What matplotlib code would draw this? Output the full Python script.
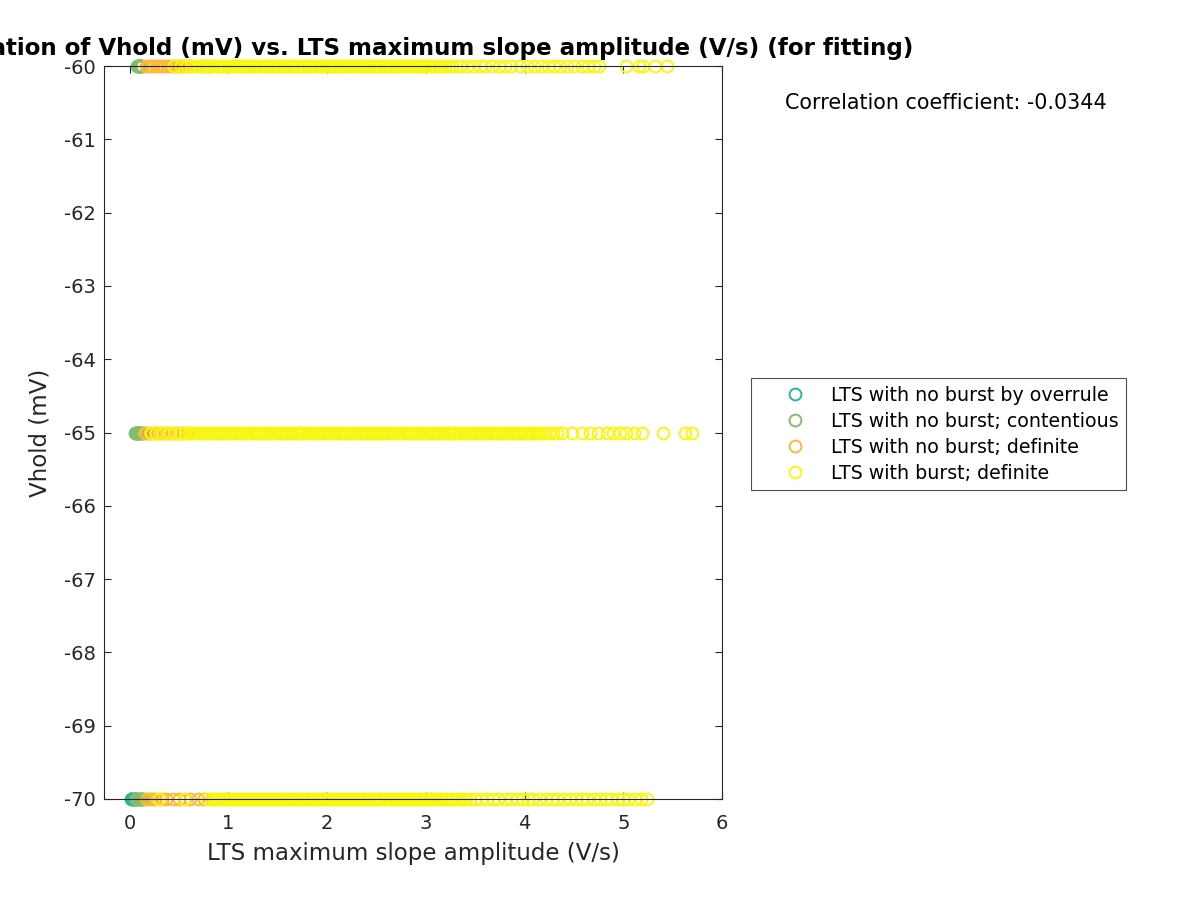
import matplotlib
matplotlib.use("Agg")
import matplotlib.pyplot as plt

# ---------------- data ----------------
title_text = "Correlation of Vhold (mV) vs. LTS maximum slope amplitude (V/s) (for fitting)"
xlabel_text = "LTS maximum slope amplitude (V/s)"
ylabel_text = "Vhold (mV)"
corr_text = "Correlation coefficient: -0.0344"
category_labels = ["LTS with no burst by overrule",
                   "LTS with no burst; contentious",
                   "LTS with no burst; definite",
                   "LTS with burst; definite"]
category_colors = ["#2bb5a0", "#84bd6e", "#fbbb35", "#f7f711"]
x_ticks = [0, 1, 2, 3, 4, 5, 6]
y_ticks = [-70, -69, -68, -67, -66, -65, -64, -63, -62, -61, -60]

# LTS with no burst by overrule
overrule_m70 = [0.01, 0.02, 0.03, 0.04, 0.05, 0.06]
overrule_m65 = [0.06, 0.08]
overrule_m60 = [0.08, 0.1]

# LTS with no burst; contentious
contentious_m60 = [0.07, 0.08, 0.09, 0.1, 0.11, 0.12]
contentious_m65 = [0.05, 0.06, 0.07, 0.08, 0.09, 0.1, 0.11, 0.12, 0.13]
contentious_m70 = [0.06, 0.07, 0.08, 0.09, 0.1, 0.11, 0.12, 0.13, 0.14]

# LTS with no burst; definite
nob_def_m60 = [0.17, 0.19, 0.22, 0.24, 0.27, 0.29, 0.32, 0.35, 0.38, 0.41, 0.44,
               0.46, 0.49, 0.51, 0.54, 0.57, 0.61, 0.73, 0.77, 0.8]
nob_def_m65 = [0.16, 0.18, 0.21, 0.23, 0.26, 0.29, 0.33, 0.36, 0.39, 0.43, 0.47,
               0.5, 0.54, 0.58]
nob_def_m70 = [0.17, 0.2, 0.23, 0.26, 0.3, 0.33, 0.37, 0.44, 0.5, 0.56, 0.61,
               0.69, 0.75, 0.83]

# LTS with burst; definite
burst_m60 = [0.45, 0.52, 0.58, 0.62, 0.66, 0.69, 0.72, 0.75, 0.78, 0.8, 0.83, 0.85,
             0.88, 0.9, 0.93, 0.95, 0.97, 1.0, 1.02, 1.05, 1.07, 1.09, 1.12, 1.14,
             1.17, 1.19, 1.21, 1.24, 1.26, 1.28, 1.31, 1.33, 1.36, 1.38, 1.4, 1.43,
             1.45, 1.47, 1.5, 1.52, 1.55, 1.57, 1.59, 1.62, 1.64, 1.66, 1.69, 1.71,
             1.74, 1.76, 1.78, 1.81, 1.83, 1.85, 1.88, 1.9, 1.93, 1.95, 1.97, 2.0,
             2.02, 2.04, 2.07, 2.09, 2.12, 2.14, 2.16, 2.19, 2.21, 2.23, 2.26, 2.28,
             2.31, 2.33, 2.35, 2.38, 2.4, 2.42, 2.45, 2.47, 2.5, 2.52, 2.54, 2.57,
             2.59, 2.61, 2.64, 2.66, 2.69, 2.71, 2.73, 2.76, 2.78, 2.8, 2.83, 2.85,
             2.88, 2.9, 2.92, 2.95, 2.97, 2.99, 3.02, 3.04, 3.07, 3.1, 3.13, 3.16,
             3.19, 3.23, 3.27, 3.31, 3.35, 3.42, 3.48, 3.55, 3.6, 3.67, 3.74, 3.8,
             3.86, 3.95, 4.02, 4.1, 4.17, 4.24, 4.3, 4.36, 4.43, 4.5, 4.58, 4.64,
             4.7, 4.75, 5.03, 5.16, 5.2, 5.32, 5.44]
burst_m65 = [0.22, 0.27, 0.34, 0.4, 0.46, 0.51, 0.56, 0.6, 0.63, 0.65, 0.68, 0.71,
             0.73, 0.76, 0.78, 0.81, 0.83, 0.86, 0.88, 0.91, 0.93, 0.96, 0.98, 1.01,
             1.03, 1.06, 1.08, 1.1, 1.13, 1.15, 1.18, 1.2, 1.23, 1.25, 1.28, 1.3,
             1.32, 1.35, 1.37, 1.4, 1.42, 1.45, 1.47, 1.5, 1.52, 1.54, 1.57, 1.59,
             1.62, 1.64, 1.67, 1.69, 1.72, 1.74, 1.76, 1.79, 1.81, 1.84, 1.86, 1.89,
             1.91, 1.94, 1.96, 1.98, 2.01, 2.03, 2.06, 2.08, 2.11, 2.13, 2.16, 2.18,
             2.2, 2.23, 2.25, 2.28, 2.3, 2.33, 2.35, 2.38, 2.4, 2.42, 2.45, 2.47,
             2.5, 2.52, 2.55, 2.57, 2.6, 2.62, 2.64, 2.67, 2.69, 2.72, 2.74, 2.77,
             2.79, 2.82, 2.84, 2.86, 2.89, 2.91, 2.94, 2.96, 2.99, 3.01, 3.04, 3.06,
             3.08, 3.11, 3.13, 3.16, 3.18, 3.21, 3.23, 3.26, 3.28, 3.3, 3.33, 3.35,
             3.38, 3.4, 3.43, 3.45, 3.48, 3.5, 3.52, 3.55, 3.57, 3.6, 3.62, 3.65,
             3.67, 3.7, 3.72, 3.74, 3.77, 3.79, 3.82, 3.84, 3.87, 3.89, 3.92, 3.94,
             3.96, 3.99, 4.01, 4.04, 4.06, 4.09, 4.12, 4.15, 4.18, 4.21, 4.25, 4.29,
             4.33, 4.38, 4.48, 4.58, 4.66, 4.74, 4.84, 4.9, 4.97, 5.03, 5.11, 5.19,
             5.4, 5.63, 5.7]
burst_m70 = [0.3, 0.55, 0.78, 0.84, 0.87, 0.9, 0.92, 0.95, 0.97, 1.0, 1.02, 1.05,
             1.07, 1.1, 1.12, 1.14, 1.17, 1.19, 1.22, 1.24, 1.27, 1.29, 1.31, 1.34,
             1.36, 1.39, 1.41, 1.44, 1.46, 1.48, 1.51, 1.53, 1.56, 1.58, 1.61, 1.63,
             1.65, 1.68, 1.7, 1.73, 1.75, 1.78, 1.8, 1.82, 1.85, 1.87, 1.9, 1.92,
             1.95, 1.97, 1.99, 2.02, 2.04, 2.07, 2.09, 2.12, 2.14, 2.16, 2.19, 2.21,
             2.24, 2.26, 2.29, 2.31, 2.33, 2.36, 2.38, 2.41, 2.43, 2.46, 2.48, 2.5,
             2.53, 2.55, 2.58, 2.6, 2.63, 2.65, 2.67, 2.7, 2.72, 2.75, 2.77, 2.8,
             2.82, 2.84, 2.87, 2.89, 2.92, 2.94, 2.97, 2.99, 3.01, 3.04, 3.06, 3.09,
             3.11, 3.14, 3.16, 3.19, 3.22, 3.25, 3.28, 3.31, 3.34, 3.37, 3.41, 3.45,
             3.5, 3.56, 3.62, 3.68, 3.73, 3.8, 3.86, 3.92, 3.98, 4.03, 4.08, 4.15,
             4.22, 4.28, 4.33, 4.4, 4.46, 4.52, 4.58, 4.63, 4.7, 4.76, 4.82, 4.88,
             4.95, 5.0, 5.05, 5.12, 5.18, 5.24]

series_x = [overrule_m60 + overrule_m65 + overrule_m70,
            contentious_m60 + contentious_m65 + contentious_m70,
            nob_def_m60 + nob_def_m65 + nob_def_m70,
            burst_m60 + burst_m65 + burst_m70]
series_y = [[-60] * len(overrule_m60) + [-65] * len(overrule_m65) + [-70] * len(overrule_m70),
            [-60] * len(contentious_m60) + [-65] * len(contentious_m65) + [-70] * len(contentious_m70),
            [-60] * len(nob_def_m60) + [-65] * len(nob_def_m65) + [-70] * len(nob_def_m70),
            [-60] * len(burst_m60) + [-65] * len(burst_m65) + [-70] * len(burst_m70)]

# ---------------- figure ----------------
plt.rcParams['font.family'] = ['DejaVu Sans']
plt.rcParams['axes.unicode_minus'] = False
fig = plt.figure(figsize=(12, 9), dpi=100)
ax = fig.add_axes([104 / 1200, 1 - 799 / 900, (722 - 104) / 1200, (799 - 66) / 900])

handles = []
for xs, ys, lab, col in zip(series_x, series_y, category_labels, category_colors):
    h, = ax.plot(xs, ys, linestyle='none', marker='o', markersize=8.5,
                 markerfacecolor='none', markeredgecolor=col, markeredgewidth=1.4,
                 label=lab, clip_on=False)
    handles.append(h)

ax.set_xlim(-0.26, 6)
ax.set_ylim(-70, -60)
ax.set_xticks(x_ticks)
ax.set_yticks(y_ticks)
ax.tick_params(direction='in', top=True, right=True, length=5, width=0.8,
               labelsize=14, colors='#262626', labelcolor='#262626')
ax.tick_params(axis='x', pad=11)
ax.tick_params(axis='y', pad=6)
for s in ax.spines.values():
    s.set_color('#262626')
    s.set_linewidth(0.8)
ax.set_xlabel(xlabel_text, fontsize=16.5, color='#262626', labelpad=6)
ax.set_ylabel(ylabel_text, fontsize=16.5, color='#262626', labelpad=9)
ax.set_title(title_text, fontsize=16.6, fontweight='bold', pad=8)

fig.text(785 / 1200, 1 - 103 / 900, corr_text, fontsize=14.9, va='center', ha='left')

leg = fig.legend(handles=handles, loc='upper left',
                 bbox_to_anchor=(751 / 1200, 1 - 378 / 900), fontsize=13.7,
                 frameon=True, fancybox=False, edgecolor='#262626',
                 handlelength=3.8, handletextpad=0.0, borderpad=0.4,
                 labelspacing=0.37, borderaxespad=0)
leg.get_frame().set_linewidth(0.8)

fig.savefig("out.png", dpi=100)
